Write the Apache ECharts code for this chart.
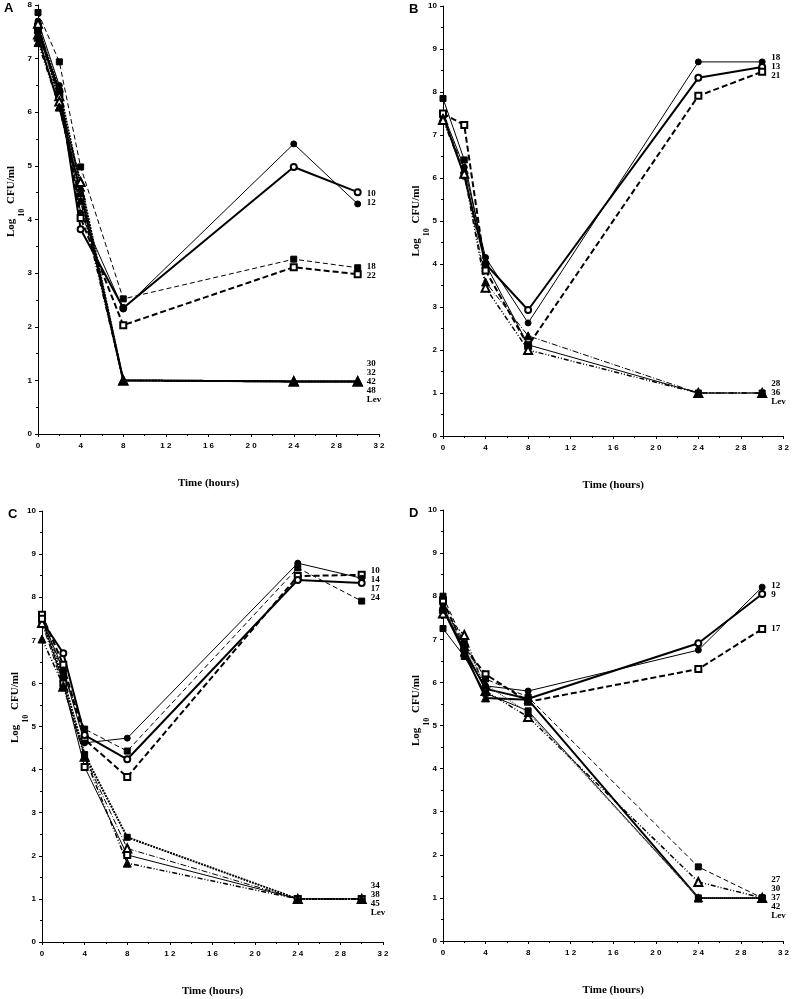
<!DOCTYPE html>
<html>
<head>
<meta charset="utf-8">
<script src="https://cdn.jsdelivr.net/npm/echarts@6/dist/echarts.min.js"></script>
<style>
  html, body { margin: 0; padding: 0; background: #fff; }
  #main { width: 792px; height: 999px; }
</style>
</head>
<body>
<div id="main"></div>
<script>
// sampling times (hours)
var hours = [0, 2, 4, 8, 24, 30];

// panel A
var namesA = ['10', '12', '18', '22', '30', '32', '42', '48', 'Lev'];
var valuesA = [
  [7.5, 6.4, 3.82, 2.35, 4.98, 4.51],
  [7.7, 6.5, 4.12, 2.33, 5.41, 4.29],
  [7.86, 6.94, 4.98, 2.52, 3.26, 3.10],
  [7.6, 6.3, 4.03, 2.03, 3.11, 2.98],
  [7.45, 6.3, 4.45, 1.0, 0.98, 0.98],
  [7.55, 6.45, 4.6, 1.0, 0.98, 0.98],
  [7.3, 6.1, 4.35, 1.0, 0.98, 0.98],
  [7.65, 6.2, 4.7, 1.0, 0.98, 0.98],
  [7.4, 6.1, 4.5, 1.0, 0.98, 0.98]
];

// panel B
var namesB = ['18', '13', '21', '28', '36', 'Lev'];
var valuesB = [
  [7.5, 6.25, 4.15, 2.63, 8.70, 8.70],
  [7.45, 6.05, 4.0, 2.93, 8.33, 8.58],
  [7.5, 7.23, 3.85, 2.1, 7.91, 8.47],
  [7.4, 6.2, 3.58, 2.33, 1.0, 1.0],
  [7.35, 6.1, 3.45, 2.0, 1.0, 1.0],
  [7.85, 6.42, 4.0, 2.12, 1.0, 1.0]
];

// panel C
var namesC = ['10', '14', '17', '24', '34', '38', '45', 'Lev'];
var valuesC = [
  [7.59, 6.43, 4.7, 3.83, 8.49, 8.52],
  [7.5, 6.31, 4.62, 4.73, 8.79, 8.44],
  [7.45, 6.70, 4.8, 4.24, 8.40, 8.33],
  [7.5, 6.24, 4.94, 4.43, 8.68, 7.91],
  [7.45, 6.1, 4.35, 2.43, 1.0, 1.0],
  [7.4, 5.92, 4.3, 2.17, 1.0, 1.0],
  [7.5, 6.0, 4.06, 2.02, 1.0, 1.0],
  [7.03, 5.95, 4.3, 1.83, 1.0, 1.0]
];

// panel D
var namesD = ['12', '9', '17', '27', '30', '37', '42', 'Lev'];
var valuesD = [
  [7.8, 6.65, 5.92, 5.8, 6.75, 8.21],
  [7.7, 6.75, 5.85, 5.62, 6.91, 8.05],
  [7.9, 6.8, 6.19, 5.55, 6.31, 7.24],
  [8.0, 6.9, 6.08, 5.66, 1.72, 1.0],
  [7.6, 7.1, 5.8, 5.2, 1.37, 1.0],
  [7.7, 6.7, 5.64, 5.6, 1.0, 1.0],
  [7.25, 6.6, 5.75, 5.34, 1.0, 1.0],
  [7.75, 6.85, 5.95, 5.3, 1.0, 1.0]
];

// which series share a text tag at the right end
var tagsA = [[0, 1], [2, 3], [4, 5, 6, 7, 8]];
var tagsB = [[0, 1, 2], [3, 4, 5]];
var tagsC = [[0, 1, 2, 3], [4, 5, 6, 7]];
var tagsD = [[0, 1], [2], [3, 4, 5, 6, 7]];

// line looks
var lineKinds = {
  thin: { width: 1, type: 'solid' },
  thick: { width: 2, type: 'solid' },
  dash: { width: 1, type: [5, 3] },
  thickDash: { width: 2, type: [6, 3] },
  dashDot: { width: 1, type: [6, 2, 1, 2] },
  dashDotDot: { width: 1.5, type: [5, 2, 1, 2, 1, 2] },
  dot: { width: 2, type: [2, 1] },
  fineDot: { width: 1.2, type: [1, 1], color: '#555' }
};

var styleA = [['emptyCircle', 'thick'], ['circle', 'thin'], ['rect', 'dash'], ['emptyRect', 'thickDash'],
  ['emptyTriangle', 'dashDot'], ['triangle', 'dot'], ['triangle', 'dashDotDot'], ['emptyTriangle', 'dot'], ['triangle', 'thick']];
var styleB = [['circle', 'thin'], ['emptyCircle', 'thick'], ['emptyRect', 'thickDash'],
  ['triangle', 'dashDot'], ['emptyTriangle', 'dashDotDot'], ['rect', 'thin']];
var styleC = [['emptyRect', 'thickDash'], ['circle', 'thin'], ['emptyCircle', 'thick'], ['rect', 'dash'],
  ['rect', 'dot'], ['emptyTriangle', 'dashDot'], ['emptyRect', 'thin'], ['triangle', 'dashDotDot']];
var styleD = [['circle', 'thin'], ['emptyCircle', 'thick'], ['emptyRect', 'thickDash'], ['rect', 'dash'],
  ['emptyTriangle', 'dashDotDot'], ['triangle', 'thick'], ['rect', 'thin'], ['triangle', 'fineDot']];

var panels = [
  { letter: 'A', names: namesA, values: valuesA, styles: styleA, tags: tagsA, yMax: 8,
    grid: { left: 38, top: 5, width: 341, height: 429 }, nameShift: -18 },
  { letter: 'B', names: namesB, values: valuesB, styles: styleB, tags: tagsB, yMax: 10,
    grid: { left: 443, top: 6, width: 342, height: 430 }, nameShift: 0 },
  { letter: 'C', names: namesC, values: valuesC, styles: styleC, tags: tagsC, yMax: 10,
    grid: { left: 42, top: 511, width: 341, height: 431 }, nameShift: -19 },
  { letter: 'D', names: namesD, values: valuesD, styles: styleD, tags: tagsD, yMax: 10,
    grid: { left: 443, top: 510, width: 343, height: 431 }, nameShift: -15 }
];

var SANS = '"Liberation Sans", Arial, sans-serif';
var SERIF = '"Liberation Serif", "Times New Roman", serif';

var tickFont = { color: '#000', fontFamily: SANS, fontWeight: 'bold', fontSize: 8 };

var option = {
  animation: false,
  backgroundColor: '#fff',
  grid: [],
  xAxis: [],
  yAxis: [],
  series: []
};

panels.forEach(function (p, k) {
  option.grid.push(p.grid);
  option.xAxis.push({
    type: 'value', gridIndex: k, min: 0, max: 32, interval: 4,
    name: 'Time (hours)', nameLocation: 'middle', nameGap: 44,
    nameTextStyle: { color: '#000', fontFamily: SERIF, fontWeight: 'bold', fontSize: 11 },
    axisLine: { show: true, onZero: false, lineStyle: { color: '#000', width: 1 } },
    axisTick: { show: true, length: 3, lineStyle: { color: '#000' } },
    minorTick: { show: true, splitNumber: 2, length: 2, lineStyle: { color: '#000' } },
    splitLine: { show: false },
    axisLabel: Object.assign({ margin: 8, formatter: function (v) { return String(v).split('').join(' '); } }, tickFont)
  });
  option.yAxis.push({
    type: 'value', gridIndex: k, min: 0, max: p.yMax, interval: 1,
    axisLine: { show: true, onZero: false, lineStyle: { color: '#000', width: 1 } },
    axisTick: { show: true, length: 3, lineStyle: { color: '#000' } },
    minorTick: { show: true, splitNumber: 2, length: 2, lineStyle: { color: '#000' } },
    splitLine: { show: false },
    axisLabel: Object.assign({ margin: 6 }, tickFont)
  });
  p.values.forEach(function (vals, i) {
    var st = p.styles[i];
    var kind = lineKinds[st[1]];
    var col = kind.color || '#000';
    option.series.push({
      type: 'line',
      name: p.letter + p.names[i],
      xAxisIndex: k,
      yAxisIndex: k,
      data: hours.map(function (h, j) { return [h, vals[j]]; }),
      symbol: st[0],
      symbolSize: st[0].indexOf('riangle') >= 0 ? 8 : 6,
      showAllSymbol: true,
      clip: false,
      silent: true,
      lineStyle: { color: col, width: kind.width, type: kind.type },
      itemStyle: { color: '#000', borderColor: '#000', borderWidth: 1 }
    });
  });
});

var chart = echarts.init(document.getElementById('main'), null, { renderer: 'canvas' });
chart.setOption(option);

// texts: panel letters, y names, end tags
var graphics = [];
panels.forEach(function (p, k) {
  var g = p.grid;
  graphics.push({
    type: 'text', left: g.left - 34, top: g.top - 3,
    style: { text: p.letter, font: 'bold 13px ' + SANS, fill: '#000' }
  });
  graphics.push({
    type: 'text', x: g.left - 27, y: g.top + g.height / 2 + p.nameShift, rotation: Math.PI / 2,
    style: {
      text: '{a|Log}{s|10}{a| CFU/ml}',
      align: 'center', verticalAlign: 'middle', fill: '#000',
      rich: {
        a: { font: 'bold 11px ' + SERIF, fill: '#000', lineHeight: 12 },
        s: { font: 'bold 8px ' + SERIF, fill: '#000', lineHeight: 30, verticalAlign: 'bottom', padding: [0, 2, 0, 2] }
      }
    }
  });
  p.tags.forEach(function (group) {
    var sum = 0;
    group.forEach(function (i) { sum += p.values[i][hours.length - 1]; });
    var pt = chart.convertToPixel({ gridIndex: k }, [hours[hours.length - 1], sum / group.length]);
    graphics.push({
      type: 'text', x: pt[0] + 9, y: pt[1],
      style: {
        text: group.map(function (i) { return p.names[i]; }).join('\n'),
        font: 'bold 9px ' + SERIF, lineHeight: 9, fill: '#000',
        align: 'left', verticalAlign: 'middle'
      }
    });
  });
});
chart.setOption({ graphic: graphics });
</script>
</body>
</html>
